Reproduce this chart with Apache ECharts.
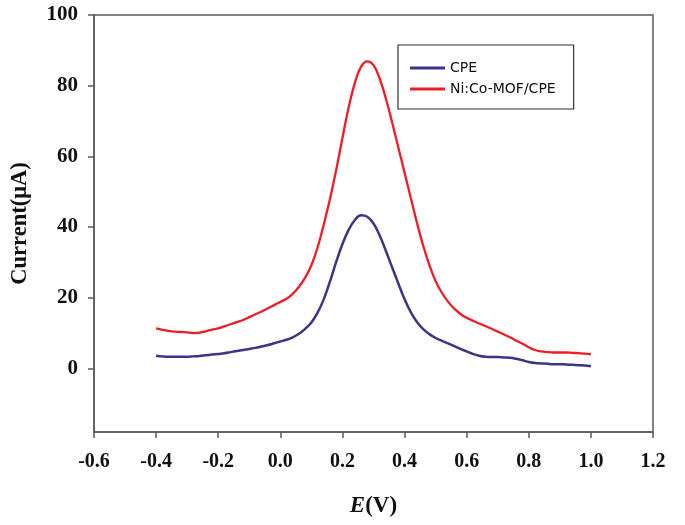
<!DOCTYPE html>
<html>
<head>
<meta charset="utf-8">
<script src="https://cdn.jsdelivr.net/npm/echarts@6/dist/echarts.min.js"></script>
<style>
html,body{margin:0;padding:0;background:#fff;}
#c{width:685px;height:525px;}
</style>
</head>
<body>
<div id="c"></div>
<script>
var potentials = [-0.40,-0.38,-0.36,-0.34,-0.32,-0.30,-0.28,-0.26,-0.24,-0.22,-0.20,-0.18,-0.16,-0.14,-0.12,-0.10,-0.08,-0.06,-0.04,-0.02,
0.00,0.02,0.04,0.06,0.08,0.10,0.12,0.14,0.16,0.18,0.20,0.22,0.24,0.26,0.28,0.30,0.32,0.34,0.36,0.38,
0.40,0.42,0.44,0.46,0.48,0.50,0.52,0.54,0.56,0.58,0.60,0.62,0.64,0.66,0.68,0.70,0.72,0.74,0.76,0.78,
0.80,0.82,0.84,0.86,0.88,0.90,0.92,0.94,0.96,0.98,1.00];

var cpe = [3.6,3.4,3.3,3.3,3.3,3.3,3.4,3.5,3.7,3.9,4.1,4.3,4.6,4.9,5.2,5.5,5.8,6.2,6.6,7.1,
7.6,8.1,8.8,9.8,11.2,13.0,15.8,19.6,24.6,30.2,35.2,39.2,42.0,43.3,42.9,41.0,37.6,33.2,28.6,24.0,
19.6,15.9,13.1,11.1,9.7,8.6,7.8,7.1,6.3,5.5,4.8,4.1,3.6,3.3,3.2,3.2,3.1,3.0,2.7,2.3,
1.8,1.5,1.4,1.3,1.2,1.2,1.1,1.0,0.9,0.8,0.6];

var mof = [11.3,10.9,10.6,10.4,10.3,10.2,10.0,10.1,10.5,11.0,11.3,11.9,12.5,13.1,13.7,14.5,15.3,16.1,17.0,17.9,
18.8,19.7,21.1,23.1,25.7,29.2,34.2,40.8,48.0,56.2,65.2,73.8,80.8,85.4,86.9,85.8,82.0,76.3,69.6,62.5,
55.4,48.3,41.2,34.7,29.2,24.7,21.4,18.9,16.9,15.4,14.3,13.5,12.7,12.0,11.2,10.4,9.6,8.8,7.8,7.0,
6.0,5.2,4.8,4.6,4.5,4.5,4.5,4.4,4.3,4.2,4.0];

var yTicks = [0,20,40,60,80,100];
var seriesNames = ['CPE','Ni:Co-MOF/CPE'];

function pairs(xs, ys){ return xs.map(function(x,i){ return [x, ys[i]]; }); }

var axisColor = '#5a5a5a';
var serif = '"Liberation Serif","Times New Roman",serif';

var chart = echarts.init(document.getElementById('c'), null, {renderer:'canvas'});
chart.setOption({
  animation:false,
  backgroundColor:'#ffffff',
  grid:{left:94,right:32,top:15,bottom:93,show:true,borderColor:axisColor,borderWidth:1.5,backgroundColor:'transparent'},
  legend:{
    data:[{name:seriesNames[0],icon:'rect'},{name:seriesNames[1],icon:'rect'}],
    orient:'vertical',
    left:398, top:45,
    padding:[15,18,12,12],
    itemGap:5,
    itemWidth:35, itemHeight:3,
    borderColor:'#333', borderWidth:1.2,
    textStyle:{fontFamily:'"DejaVu Sans",Verdana,sans-serif',fontSize:14,color:'#111',lineHeight:16}
  },
  xAxis:{
    type:'value', min:-0.6, max:1.2, interval:0.2,
    axisLine:{show:true,onZero:false,lineStyle:{color:axisColor,width:1.5}},
    axisTick:{show:true,inside:false,length:6,lineStyle:{color:axisColor,width:1.5}},
    splitLine:{show:false},
    axisLabel:{margin:20,fontFamily:serif,fontWeight:'bold',fontSize:20,color:'#111',
      formatter:function(v){ return (Math.round(v*10)/10).toFixed(1); }},
    name:'{i|E}(V)', nameLocation:'middle', nameGap:63,
    nameTextStyle:{fontFamily:serif,fontWeight:'bold',fontSize:23,color:'#111',
      rich:{i:{fontFamily:serif,fontWeight:'bold',fontStyle:'italic',fontSize:23,color:'#111'}}}
  },
  yAxis:{
    type:'value', min:-18, max:100,
    axisLine:{show:true,onZero:false,lineStyle:{color:axisColor,width:1.5}},
    axisTick:{show:true,inside:false,length:6,customValues:yTicks,lineStyle:{color:axisColor,width:1.5}},
    splitLine:{show:false},
    axisLabel:{margin:16,customValues:yTicks,fontFamily:serif,fontWeight:'bold',fontSize:21,color:'#111'},
    name:'Current(\u03bcA)', nameLocation:'middle', nameGap:62, nameRotate:90,
    nameTextStyle:{fontFamily:serif,fontWeight:'bold',fontSize:22.5,color:'#111'}
  },
  series:[
    {name:seriesNames[0],type:'line',data:pairs(potentials,cpe),smooth:0.4,showSymbol:false,symbol:'none',
     lineStyle:{color:'#3b3587',width:2.5},itemStyle:{color:'#3b3587'}},
    {name:seriesNames[1],type:'line',data:pairs(potentials,mof),smooth:0.4,showSymbol:false,symbol:'none',
     lineStyle:{color:'#ee1c24',width:2.3},itemStyle:{color:'#ee1c24'}}
  ]
});
</script>
</body>
</html>
